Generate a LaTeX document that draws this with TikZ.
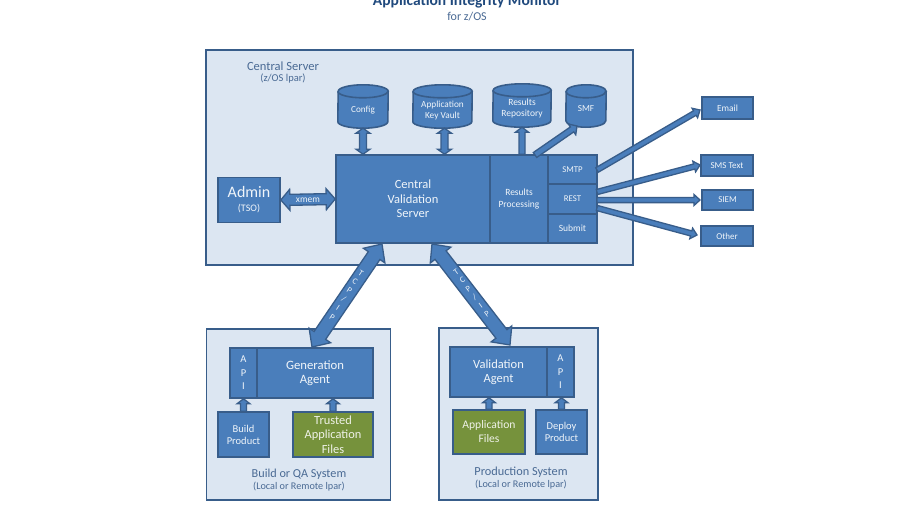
\documentclass[tikz,border=0pt]{standalone}
\usepackage{fontspec}
\setmainfont{Carlito}
\usetikzlibrary{calc}
\definecolor{body}{HTML}{4A7EBB}
\definecolor{edge}{HTML}{385D8A}
\definecolor{panelfill}{HTML}{DCE6F2}
\definecolor{leaf}{HTML}{76923C}
\definecolor{panelink}{HTML}{4A6A94}
\definecolor{titleink}{HTML}{1F497D}
\newcommand{\fs}[2]{\fontsize{#1pt}{#2pt}\selectfont}
% database drum: name, centre, width, height (lengths in pt)
\newcommand{\drum}[4]{%
  \node[inner sep=0pt,minimum width=#3pt,minimum height=#4pt] (#1) at (#2) {};
  \draw[drumline,fill=body]
    ([yshift=6.5pt]#1.south west)
      arc[start angle=180,end angle=360,x radius=#3pt/2,y radius=6.5pt]
    -- ([yshift=-6.5pt]#1.north east)
      arc[start angle=0,end angle=180,x radius=#3pt/2,y radius=6.5pt]
    -- cycle;
  \draw[drumline]
    ([yshift=-6.5pt]#1.north west)
      arc[start angle=180,end angle=360,x radius=#3pt/2,y radius=6.5pt];
}
\tikzset{
  panel/.style={draw=edge,fill=panelfill,line width=1.6pt},
  drumline/.style={draw=edge,line width=1.6pt},
  boxbase/.style={draw=edge,line width=1.6pt,text=white!92!body,inner sep=0pt,align=center},
  blue/.style n args={2}{boxbase,fill=body,minimum width=#1,minimum height=#2},
  green/.style n args={2}{boxbase,fill=leaf,minimum width=#1,minimum height=#2,text=white!88!leaf},
  storetext/.style={text=white!92!body,inner sep=0pt,align=center},
  caption/.style={text=panelink,align=center,inner sep=0pt},
  % block arrow with one head at the target; half shaft / half head / head length
  oneway/.style n args={3}{draw=edge,fill=body,line width=1.3pt,line join=miter,to path={
    -- ($(\tikztostart)!#1!90:(\tikztotarget)$)
    -- ($($(\tikztotarget)!#3!(\tikztostart)$)!#1!90:(\tikztotarget)$)
    -- ($($(\tikztotarget)!#3!(\tikztostart)$)!#2!90:(\tikztotarget)$)
    -- (\tikztotarget)
    -- ($($(\tikztotarget)!#3!(\tikztostart)$)!#2!-90:(\tikztotarget)$)
    -- ($($(\tikztotarget)!#3!(\tikztostart)$)!#1!-90:(\tikztotarget)$)
    -- ($(\tikztostart)!#1!-90:(\tikztotarget)$)
    -- cycle}},
  % block arrow with a head at each end
  twoway/.style n args={3}{draw=edge,fill=body,line width=1.3pt,line join=miter,to path={
    -- ($($(\tikztostart)!#3!(\tikztotarget)$)!#2!90:(\tikztotarget)$)
    -- ($($(\tikztostart)!#3!(\tikztotarget)$)!#1!90:(\tikztotarget)$)
    -- ($($(\tikztotarget)!#3!(\tikztostart)$)!#1!90:(\tikztotarget)$)
    -- ($($(\tikztotarget)!#3!(\tikztostart)$)!#2!90:(\tikztotarget)$)
    -- (\tikztotarget)
    -- ($($(\tikztotarget)!#3!(\tikztostart)$)!#2!-90:(\tikztotarget)$)
    -- ($($(\tikztotarget)!#3!(\tikztostart)$)!#1!-90:(\tikztotarget)$)
    -- ($($(\tikztostart)!#3!(\tikztotarget)$)!#1!-90:(\tikztotarget)$)
    -- ($($(\tikztostart)!#3!(\tikztotarget)$)!#2!-90:(\tikztotarget)$)
    -- cycle}},
}
\begin{document}
\begin{tikzpicture}[x=1pt,y=-1pt]
\useasboundingbox (0,0) rectangle (900,506);
\clip (0,0) rectangle (900,506);
\fill[white] (0,0) rectangle (900,506);

% heading
\node[text=titleink,inner sep=0pt,font=\bfseries\fs{15.5}{17}] (title) at (467,1) {Application Integrity Monitor};
\node[caption,font=\fs{12}{14}] (subtitle) at (467,17) {for z/OS};

% system panels
\node[panel,minimum width=427pt,minimum height=215pt,inner sep=0pt] (central) at (419.5,157.5) {};
\node[panel,minimum width=184pt,minimum height=171pt,inner sep=0pt] (build) at (298.5,414.5) {};
\node[panel,minimum width=159pt,minimum height=172pt,inner sep=0pt] (prod) at (518.5,414) {};

\node[caption,font=\fs{12.5}{14}] (centralcap) at (283,66) {Central Server};
\node[caption,font=\fs{10.5}{12}] (centralsub) at (283,78.5) {(z/OS lpar)};
\node[caption,font=\fs{12.2}{14}] (buildcap) at (299,474) {Build or QA System};
\node[caption,font=\fs{10.2}{12}] (buildsub) at (299,487) {(Local or Remote lpar)};
\node[caption,font=\fs{12.3}{14}] (prodcap) at (521,472) {Production System};
\node[caption,font=\fs{10.2}{12}] (prodsub) at (521,485) {(Local or Remote lpar)};

% central server contents
\node[blue={62pt}{45pt}] (admin) at (249,200) {{\fs{16}{17}Admin}\\[2pt]{\fs{10}{11}(TSO)}};
\node[blue={154pt}{88pt},font=\fs{12.5}{14.5}] (cvs) at (413,199) {Central\\Validation\\Server};
\node[blue={58pt}{88pt},font=\fs{9.5}{11.5}] (results) at (519,199) {Results\\Processing};
\node[blue={49pt}{29pt},font=\fs{8.8}{10}] (smtp) at (572.5,169.5) {SMTP};
\node[blue={49pt}{30pt},font=\fs{8.8}{10}] (rest) at (572.5,199) {REST};
\node[blue={49pt}{29pt},font=\fs{9.5}{10}] (submit) at (572.5,228.5) {Submit};

\drum{config}{363,106.5}{50}{43}
\drum{vault}{442.5,106.5}{59}{43}
\drum{repo}{522,105.5}{58}{43}
\drum{smf}{586,106}{40}{42}
\node[storetext,font=\fs{9.2}{10}] (configtext) at (363,110) {Config};
\node[storetext,font=\fs{9.3}{10.5}] (vaulttext) at (442.5,110.5) {Application\\Key Vault};
\node[storetext,font=\fs{9.5}{10.5}] (repotext) at (522,108.5) {Results\\Repository};
\node[storetext,font=\fs{9.2}{10}] (smftext) at (586,109) {SMF};

% delivery targets
\node[blue={51pt}{22pt},font=\fs{9.4}{10}] (email) at (727.5,108) {Email};
\node[blue={52pt}{21pt},font=\fs{9}{10}] (sms) at (727,165.5) {SMS Text};
\node[blue={51pt}{20pt},font=\fs{9}{10}] (siem) at (727.5,200) {SIEM};
\node[blue={52pt}{20pt},font=\fs{9}{10}] (other) at (727,236) {Other};

% build system contents
\node[blue={27pt}{50pt},font=\fs{10.5}{13.5}] (apileft) at (243.5,373) {A\\P\\I};
\node[blue={116pt}{50pt},font=\fs{12.7}{14}] (genagent) at (315,373) {Generation\\Agent};
\node[blue={51pt}{45pt},font=\fs{10.5}{12}] (buildprod) at (243.5,434.5) {Build\\Product};
\node[green={80pt}{45pt},font=\fs{12.4}{14.5}] (trusted) at (333,434.5) {Trusted\\Application\\Files};

% production system contents
\node[blue={97pt}{50pt},font=\fs{12.5}{14}] (valagent) at (498.5,372) {Validation\\Agent};
\node[blue={27pt}{50pt},font=\fs{10.5}{13.5}] (apiright) at (560.5,372) {A\\P\\I};
\node[green={72pt}{44pt},font=\fs{11.6}{14}] (appfiles) at (489,432) {Application\\Files};
\node[blue={51pt}{44pt},font=\fs{10.5}{12}] (deploy) at (561.5,432) {Deploy\\Product};

% connector end points on the box edges
\coordinate (cfgdown) at (config.south |- cvs.north);
\coordinate (vaultup) at ([xshift=2pt]vault.south);
\coordinate (vaultdown) at (vaultup |- cvs.north);
\coordinate (repodown) at (repo.south |- results.north);
\coordinate (smftail) at (535,155);
\coordinate (smftip) at (577,126);
\coordinate (tcpa) at (382,244);
\coordinate (tcpb) at (312,347);
\coordinate (tcpc) at (432,244);
\coordinate (tcpd) at (510,345);
\coordinate (emailtail) at (597,170);
\coordinate (emailtip) at (700,110);
\coordinate (smstail) at (597,192);
\coordinate (smstip) at (700,165);
\coordinate (siemtail) at (597,200);
\coordinate (siemtip) at (700,200);
\coordinate (othertail) at (597,208);
\coordinate (othertip) at (697,235);
\coordinate (trustedup) at (trusted.north |- genagent.south);
\coordinate (filesup) at (appfiles.north |- valagent.south);
\coordinate (deployup) at (deploy.north |- apiright.south);

% connectors
\draw[twoway={3.5pt}{7pt}{5pt}] (config.south) to (cfgdown);
\draw[twoway={3.5pt}{7pt}{5pt}] (vaultup) to (vaultdown);
\draw[oneway={3pt}{6.5pt}{5pt}] (repodown) to (repo.south);
\draw[oneway={3pt}{6.5pt}{6pt}] (smftail) to (smftip);
\draw[twoway={5.5pt}{10.5pt}{9pt}] (admin.east) to (cvs.west);
\draw[twoway={7pt}{13pt}{14pt}] (tcpa) to (tcpb);
\draw[twoway={7pt}{13pt}{14pt}] (tcpc) to (tcpd);
\draw[oneway={2.6pt}{5.5pt}{6pt}] (emailtail) to (emailtip);
\draw[oneway={2.6pt}{5.5pt}{6pt}] (smstail) to (smstip);
\draw[oneway={2.6pt}{5.5pt}{6pt}] (siemtail) to (siemtip);
\draw[oneway={2.6pt}{5.5pt}{6pt}] (othertail) to (othertip);
\draw[oneway={3pt}{6.5pt}{5pt}] (buildprod.north) to (apileft.south);
\draw[oneway={3pt}{6.5pt}{5pt}] (trusted.north) to (trustedup);
\draw[oneway={3pt}{6.5pt}{5pt}] (appfiles.north) to (filesup);
\draw[oneway={3pt}{6.5pt}{5pt}] (deploy.north) to (deployup);

% connector labels
\node[inner sep=0pt,text=white!92!body,font=\fs{9.5}{10}] (xmemlabel) at (308,200) {xmem};
\node[inner sep=0pt,align=center,rotate=-33,text=white!90!body,font=\fs{8.5}{10.5}] (tcpleft) at (346.5,295) {T\\C\\P\\/\\I\\P};
\node[inner sep=0pt,align=center,rotate=36,text=white!90!body,font=\fs{8.5}{10.5}] (tcpright) at (471.5,293) {T\\C\\P\\/\\I\\P};
\end{tikzpicture}
\end{document}
